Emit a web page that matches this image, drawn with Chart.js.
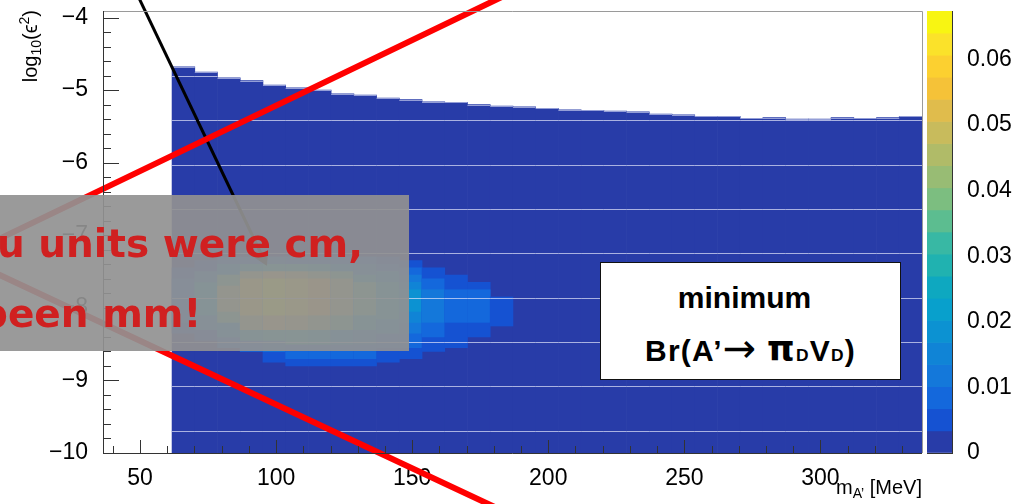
<!DOCTYPE html>
<html>
<head>
<meta charset="utf-8">
<script src="https://cdn.jsdelivr.net/npm/chart.js@4.4.1/dist/chart.umd.min.js"></script>
<style>
html, body { margin: 0; padding: 0; background: #fff; }
#wrap { position: relative; width: 1028px; height: 504px; overflow: hidden; font-family: 'Liberation Sans', Arial, sans-serif; }
#wrap canvas { position: absolute; top: 0; }
#main { left: 0; }
#pal { left: 900px; }
.ytitle { position: absolute; left: 18px; top: 130px; width: 120px; height: 24px; line-height: 24px; text-align: right;
          transform-origin: 0 0; transform: rotate(-90deg); font-size: 20px; white-space: nowrap; }
.xtitle { position: absolute; left: 722px; top: 475px; width: 200px; height: 26px; line-height: 24px; text-align: right;
          font-size: 20px; white-space: nowrap; }
.ytitle sub, .xtitle sub { font-size: 0.7em; vertical-align: -0.3em; line-height: 0; }
.ytitle sup { font-size: 0.7em; vertical-align: 0.55em; line-height: 0; }
.legend { position: absolute; left: 600px; top: 262px; width: 299px; height: 116px; background: #fff; border: 1.5px solid #111; }
.legend div { position: absolute; left: 0; width: 100%; text-align: center; white-space: nowrap;
              font: bold 30px 'Liberation Sans', Arial, sans-serif; line-height: 30px; color: #000; }
.legend .l1 { top: 20px; padding-right: 12px; box-sizing: border-box; }
.legend .l2 { top: 73px; letter-spacing: 1.2px; }
.legend .sd { font-size: 0.58em; }
.legend .ar { font: normal 40px 'DejaVu Sans', sans-serif; line-height: 0; vertical-align: -0.02em; }
.legend .pi { font: bold 35px 'DejaVu Sans', sans-serif; line-height: 0; }
.note { position: absolute; left: 0; top: 195px; width: 409px; height: 156px; background: rgba(145,145,145,0.92); overflow: hidden; }
.note div { position: absolute; white-space: nowrap; font: bold 39px 'DejaVu Sans', sans-serif; line-height: 39px; color: #d02020; }
.note .n1 { left: -3px; top: 29px; }
.note .n2 { left: -20px; top: 99px; }
</style>
</head>
<body>
<div id="wrap">
  <canvas id="main" width="1028" height="504"></canvas>
  <canvas id="pal" width="128" height="504"></canvas>
  <div class="ytitle">log<sub>10</sub>(ϵ<sup>2</sup>)</div>
  <div class="xtitle">m<sub>A’</sub> [MeV]</div>
  <div class="legend">
    <div class="l1">minimum</div>
    <div class="l2">Br(A’<span class="ar">→</span> <span class="pi">π</span><span class="sd">D</span>V<span class="sd">D</span>)</div>
  </div>
  <div class="note">
    <div class="n1">u units were cm,</div>
    <div class="n2">been mm!</div>
  </div>
</div>
<script>
// m_A' bin centres (MeV), one per histogram column
const massBins = [65.95, 74.30, 82.65, 91.00, 99.35, 107.70, 116.05, 124.40, 132.75, 141.10,
  149.45, 157.80, 166.15, 174.50, 182.85, 191.20, 199.55, 207.90, 216.25, 224.60, 232.95,
  241.30, 249.65, 258.00, 266.35, 274.70, 283.05, 291.40, 299.75, 308.10, 316.45, 324.80, 333.15];

// upper edge of the filled (z = 0) region in each column, log10(eps^2)
const binTop = [-4.68, -4.75, -4.83, -4.87, -4.93, -4.97, -5.00, -5.05, -5.07, -5.11,
  -5.13, -5.16, -5.17, -5.20, -5.22, -5.23, -5.25, -5.27, -5.28, -5.29, -5.30,
  -5.33, -5.34, -5.36, -5.36, -5.39, -5.38, -5.40, -5.40, -5.38, -5.39, -5.38, -5.36];

// non-zero cells (nested, outer first): column, low edge, high edge, Br value
const cellMass = [
  65.95, 65.95,
  74.30, 74.30, 74.30,
  82.65, 82.65, 82.65, 82.65,
  91.00, 91.00, 91.00, 91.00,
  99.35, 99.35, 99.35, 99.35, 99.35,
  107.70, 107.70, 107.70, 107.70, 107.70,
  116.05, 116.05, 116.05, 116.05, 116.05,
  124.40, 124.40, 124.40, 124.40, 124.40,
  132.75, 132.75, 132.75, 132.75, 132.75,
  141.10, 141.10, 141.10, 141.10,
  149.45, 149.45, 149.45, 149.45, 149.45,
  157.80, 157.80, 157.80,
  166.15, 166.15,
  174.50, 174.50,
  182.85];
const cellLow = [
  -8.35, -8.20,
  -8.45, -8.30, -8.10,
  -8.55, -8.40, -8.20, -8.05,
  -8.60, -8.45, -8.30, -8.10,
  -8.75, -8.60, -8.45, -8.30, -8.10,
  -8.80, -8.70, -8.50, -8.30, -8.10,
  -8.80, -8.70, -8.50, -8.30, -8.10,
  -8.80, -8.70, -8.50, -8.30, -8.10,
  -8.80, -8.70, -8.50, -8.30, -8.10,
  -8.75, -8.55, -8.35, -8.15,
  -8.70, -8.55, -8.35, -8.20, -8.05,
  -8.60, -8.40, -8.20,
  -8.55, -8.20,
  -8.40, -8.20,
  -8.25];
const cellHigh = [
  -7.45, -7.60,
  -7.35, -7.50, -7.65,
  -7.30, -7.40, -7.55, -7.70,
  -7.30, -7.40, -7.50, -7.60,
  -7.30, -7.30, -7.40, -7.50, -7.60,
  -7.30, -7.30, -7.40, -7.50, -7.60,
  -7.30, -7.30, -7.40, -7.50, -7.60,
  -7.30, -7.30, -7.40, -7.50, -7.60,
  -7.30, -7.30, -7.40, -7.55, -7.65,
  -7.30, -7.40, -7.50, -7.65,
  -7.35, -7.45, -7.55, -7.65, -7.75,
  -7.45, -7.60, -7.75,
  -7.55, -7.75,
  -7.65, -7.75,
  -7.85];
const cellZ = [
  0.004, 0.008,
  0.006, 0.014, 0.022,
  0.008, 0.020, 0.035, 0.045,
  0.008, 0.025, 0.045, 0.058,
  0.005, 0.012, 0.030, 0.052, 0.066,
  0.005, 0.008, 0.030, 0.050, 0.064,
  0.005, 0.008, 0.025, 0.042, 0.054,
  0.005, 0.008, 0.020, 0.035, 0.045,
  0.005, 0.008, 0.016, 0.026, 0.034,
  0.005, 0.010, 0.017, 0.025,
  0.005, 0.008, 0.012, 0.015, 0.018,
  0.005, 0.008, 0.012,
  0.005, 0.008,
  0.005, 0.008,
  0.005];

// axis tick labels
const xTicks = [50, 100, 150, 200, 250, 300];
const yTicks = [-10, -9, -8, -7, -6, -5, -4];
const zTicks = [0, 0.01, 0.02, 0.03, 0.04, 0.05, 0.06];

// colour-bar contour levels
const zLevels = [0, 0.00337, 0.00674, 0.01011, 0.01348, 0.01685, 0.02022, 0.02359, 0.02696, 0.03033,
  0.0337, 0.03707, 0.04044, 0.04381, 0.04718, 0.05055, 0.05392, 0.05729, 0.06066, 0.06403, 0.0674];

// hand-drawn annotations on the slide (data coordinates)
const calloutX = [188.3, -15.6, 185.8];
const calloutY = [-3.62, -7.30, -10.84];
const arrowX = [48.2, 95.2];
const arrowY = [-3.62, -7.31];

const paletteColors = ['#283ca8', '#1552d2', '#1468dc', '#1478da', '#1084d6', '#0c92d2', '#08a0cc',
  '#0ea8c0', '#20b2b0', '#38b8a4', '#5cbd90', '#7cbe80', '#98bc74', '#b0bb68', '#c8bb5c',
  '#e0bc4c', '#f5c238', '#fcd030', '#fbe22a', '#f8f512'];

function zColor(z) {
  let k = 0;
  while (k < paletteColors.length - 1 && z >= zLevels[k + 1]) k++;
  return paletteColors[k];
}

Chart.defaults.font.family = "'Liberation Sans', Arial, sans-serif";
Chart.defaults.color = '#000';

const minus = v => String(v).replace('-', '\u2212');
const setTicks = list => s => { s.ticks = list.map(v => ({value: v})); };
const noPad = s => { s.paddingTop = 0; s.paddingBottom = 0; s.paddingLeft = 0; s.paddingRight = 0; };

// ROOT-style inward ticks, frame, top outline and the light seams of the colz rendering
const rootFrame = {
  id: 'rootFrame',
  afterDatasetDraw(chart, args) {
    if (args.index !== 2) return;
    const {ctx, scales: {x, y}} = chart;
    const half = (massBins[1] - massBins[0]) / 2;
    ctx.save();
    ctx.lineWidth = 1;
    ctx.strokeStyle = 'rgba(225,228,250,0.7)';
    ctx.beginPath();
    for (let s = -9.692; s < -4.5; s += 0.6107) {
      const py = Math.round(y.getPixelForValue(s)) + 0.5;
      massBins.forEach((m, i) => {
        if (binTop[i] <= s) return;
        ctx.moveTo(x.getPixelForValue(m - half), py);
        ctx.lineTo(x.getPixelForValue(m + half), py);
      });
    }
    ctx.stroke();
    ctx.strokeStyle = 'rgba(160,168,220,0.9)';
    ctx.beginPath();
    massBins.forEach((m, i) => {
      const py = Math.round(y.getPixelForValue(binTop[i])) + 0.5;
      ctx.moveTo(x.getPixelForValue(m - half), py);
      ctx.lineTo(x.getPixelForValue(m + half), py);
    });
    ctx.stroke();
    ctx.restore();
  },
  afterDraw(chart) {
    const {ctx, chartArea: a, scales: {x, y}} = chart;
    ctx.save();
    ctx.lineWidth = 1;
    ctx.strokeStyle = '#9a9a9a';
    ctx.beginPath();
    ctx.moveTo(a.left, a.top + 0.5); ctx.lineTo(a.right + 0.5, a.top + 0.5);
    ctx.lineTo(a.right + 0.5, a.bottom);
    ctx.stroke();
    ctx.strokeStyle = '#333';
    ctx.beginPath();
    ctx.moveTo(a.left + 0.5, a.top); ctx.lineTo(a.left + 0.5, a.bottom + 0.5);
    ctx.lineTo(a.right, a.bottom + 0.5);
    for (let v = 40; v <= 330; v += 10) {
      const px = Math.round(x.getPixelForValue(v)) + 0.5;
      ctx.moveTo(px, a.bottom);
      ctx.lineTo(px, a.bottom - (v % 50 === 0 ? 13 : 7));
    }
    for (let k = 0; k <= 30; k++) {
      const py = Math.round(y.getPixelForValue(-10 + k * 0.2)) + 0.5;
      ctx.moveTo(a.left, py);
      ctx.lineTo(a.left + (k % 5 === 0 ? 16 : 8), py);
    }
    ctx.stroke();
    ctx.restore();
  }
};

const barStyle = {type: 'bar', grouped: false, barPercentage: 1, categoryPercentage: 1, borderWidth: 0};

new Chart(document.getElementById('main'), {
  type: 'bar',
  data: {
    datasets: [
      {
        type: 'line', order: 0, clip: false,
        data: calloutX.map((v, i) => ({x: v, y: calloutY[i]})),
        borderColor: '#ff0000', borderWidth: 6, pointRadius: 0, tension: 0, borderJoinStyle: 'miter'
      },
      {
        type: 'line', order: 1, clip: false,
        data: arrowX.map((v, i) => ({x: v, y: arrowY[i]})),
        borderColor: '#000', borderWidth: 3, tension: 0,
        pointStyle: 'triangle', pointRadius: [0, 6], pointRotation: 154,
        pointBackgroundColor: '#000', pointBorderColor: '#000'
      },
      Object.assign({}, barStyle, {
        order: 2,
        data: cellMass.map((m, i) => ({x: m, y: [cellLow[i], cellHigh[i]]})),
        backgroundColor: cellZ.map(zColor)
      }),
      Object.assign({}, barStyle, {
        order: 3,
        data: massBins.map((m, i) => ({x: m, y: [-10, binTop[i]]})),
        backgroundColor: zColor(0)
      })
    ]
  },
  options: {
    responsive: false, animation: false, devicePixelRatio: 1,
    layout: {padding: {top: 11, right: 106, left: 0, bottom: 0}},
    plugins: {legend: {display: false}, tooltip: {enabled: false}},
    scales: {
      x: {
        type: 'linear', min: 36.4, max: 337.33, offset: false,
        grid: {display: false, drawTicks: false}, border: {display: false},
        ticks: {padding: 12, font: {size: 23}, maxRotation: 0, autoSkip: false},
        afterBuildTicks: setTicks(xTicks),
        afterFit(s) { s.height = 51; noPad(s); }
      },
      y: {
        type: 'linear', min: -10, max: -3.91,
        grid: {display: false, drawTicks: false}, border: {display: false},
        ticks: {padding: 15, font: {size: 23}, callback: minus},
        afterBuildTicks: setTicks(yTicks),
        afterFit(s) { s.width = 103; noPad(s); }
      }
    }
  },
  plugins: [rootFrame]
});

// colour palette axis
new Chart(document.getElementById('pal'), {
  type: 'bar',
  data: {
    labels: ['z'],
    datasets: [Object.assign({}, barStyle, {
      data: zLevels.slice(0, -1).map((lo, k) => ({x: 'z', y: [lo, zLevels[k + 1]]})),
      backgroundColor: paletteColors
    })]
  },
  options: {
    responsive: false, animation: false, devicePixelRatio: 1,
    layout: {padding: {top: 11, left: 27, right: 0, bottom: 51}},
    plugins: {legend: {display: false}, tooltip: {enabled: false}},
    scales: {
      x: {display: false},
      y: {
        position: 'right', min: 0, max: 0.0674, z: 1,
        grid: {color: '#333', drawTicks: false, lineWidth: 1},
        border: {display: true, color: '#333'},
        ticks: {padding: 15, font: {size: 23}},
        afterBuildTicks: setTicks(zTicks),
        afterFit(s) { s.width = 76; noPad(s); }
      }
    }
  }
});
</script>
</body>
</html>
